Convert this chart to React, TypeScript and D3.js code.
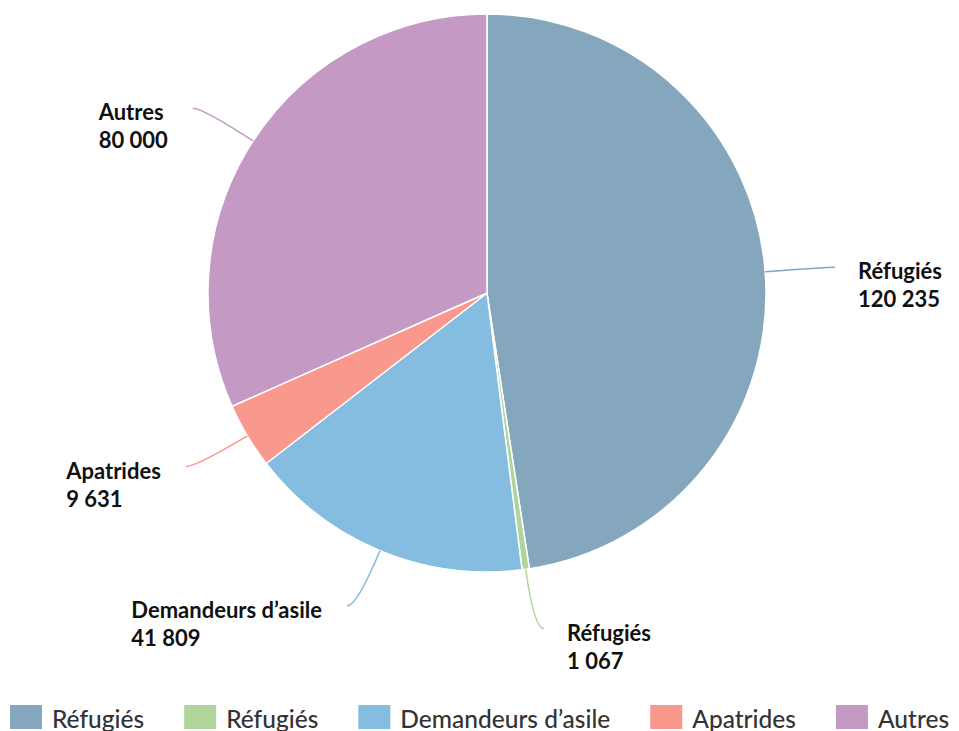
import React, { useMemo } from 'react'
import * as d3 from 'd3'

const categories = ['Réfugiés', 'Réfugiés', 'Demandeurs d’asile', 'Apatrides', 'Autres']
const values = [120235, 1067, 41809, 9631, 80000]
const valueLabels = ['120 235', '1 067', '41 809', '9 631', '80 000']
const colors = ['#84a7be', '#afd59c', '#84bde0', '#f9998d', '#c49ac5']

const width = 959
const height = 731
const cx = 487
const cy = 293
const radius = 279
const labelSize = 22
const legendSize = 24.5
const labelFont = `bold ${labelSize}px Lato`
const legendFont = `500 ${legendSize}px Lato`

let ctx: CanvasRenderingContext2D | null = null
function measure(text: string, font: string) {
  if (!ctx) ctx = document.createElement('canvas').getContext('2d')
  if (!ctx) return text.length * 10
  ctx.font = font
  return ctx.measureText(text).width
}

export default function App() {
  const slices = useMemo(() => {
    const pie = d3.pie<number>().sort(null).value(d => d)
    return pie(values)
  }, [])

  const arc = d3.arc<d3.PieArcDatum<number>>().innerRadius(0).outerRadius(radius)

  // légende centrée
  const legend = useMemo(() => {
    const box = 32
    const gapText = 10
    const gapItem = 40
    const widths = categories.map(c => box + gapText + measure(c, legendFont))
    const total = d3.sum(widths) + gapItem * (widths.length - 1)
    let x = (width - total) / 2
    return widths.map((w, i) => {
      const item = { x, label: categories[i], color: colors[i] }
      x += w + gapItem
      return item
    })
  }, [])

  return (
    <svg
      width={width}
      height={height}
      style={{ position: 'absolute', left: 0, top: 0, background: '#fff' }}
      fontFamily="Lato, sans-serif"
    >
      <g>
        {slices.map((s, i) => (
          <path key={i} d={arc(s) || ''} transform={`translate(${cx},${cy})`}
            fill={colors[i]} stroke="#fff" strokeWidth={1.5} strokeLinejoin="round" />
        ))}
      </g>
      <g>
        {slices.map((s, i) => {
          const a = (s.startAngle + s.endAngle) / 2
          const sx = Math.sin(a)
          const sy = -Math.cos(a)
          const side = sx >= 0 ? 1 : -1
          const p1 = [cx + radius * sx, cy + radius * sy]
          const p2 = [cx + (radius + 60) * sx, cy + (radius + 60) * sy]
          const p3 = [p2[0] + side * 10, p2[1]]
          const path = d3.path()
          path.moveTo(p1[0], p1[1])
          path.quadraticCurveTo(p2[0], p2[1], p3[0], p3[1])
          const blockW = Math.max(measure(categories[i], labelFont), measure(valueLabels[i], labelFont))
          const tx = side > 0 ? p3[0] + 23 : p3[0] - 25 - blockW
          return (
            <g key={i}>
              <path d={path.toString()} fill="none" stroke={colors[i]} strokeWidth={1.5} />
              <text x={tx} y={p3[1] + 12} fontSize={labelSize} fontWeight="bold" fill="#111">
                {categories[i]}
              </text>
              <text x={tx} y={p3[1] + 40} fontSize={labelSize} fontWeight="bold" fill="#111">
                {valueLabels[i]}
              </text>
            </g>
          )
        })}
      </g>
      <g>
        {legend.map((l, i) => (
          <g key={i} transform={`translate(${l.x},705)`}>
            <rect width={32} height={24} fill={l.color} />
            <text x={42} y={23} fontSize={legendSize} fontWeight={500} fill="#333">{l.label}</text>
          </g>
        ))}
      </g>
    </svg>
  )
}
